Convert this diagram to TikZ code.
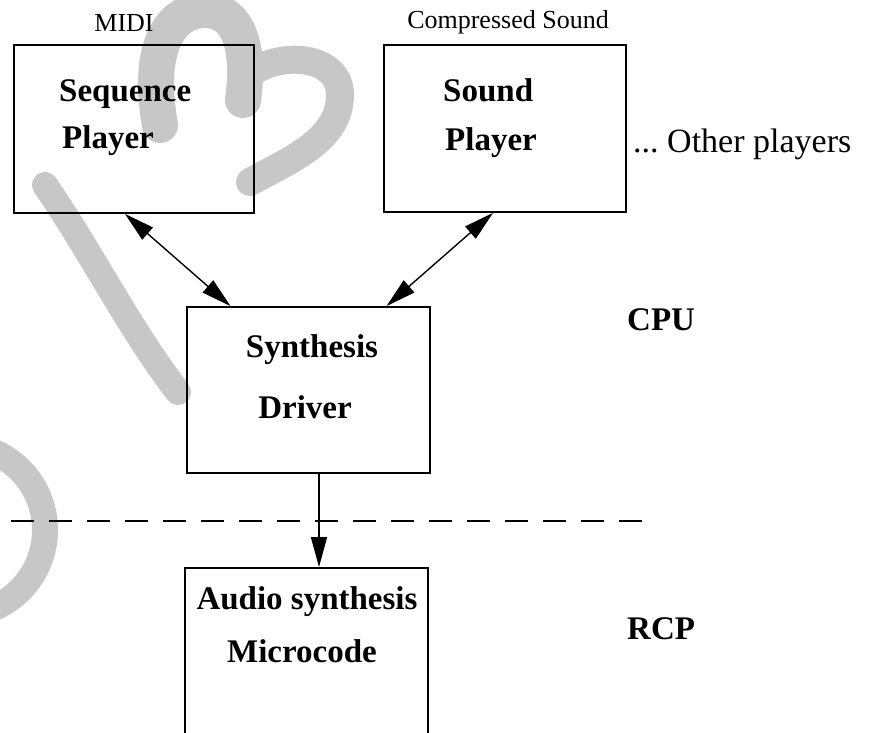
\documentclass[tikz,border=0pt]{standalone}
\usepackage{fontspec}
\setmainfont{Liberation Serif}
\usetikzlibrary{arrows.meta}

\colorlet{wmgray}{black!22}

\tikzset{
  unit/.style={draw, line width=1.8pt, minimum width=242pt, minimum height=167pt, inner sep=0pt},
  boxlabel/.style={anchor=base west, inner sep=0pt, font=\fontsize{33}{38}\selectfont\bfseries},
  toplabel/.style={anchor=base, inner sep=0pt, font=\fontsize{26}{30}\selectfont},
  sidelabel/.style={anchor=base west, inner sep=0pt, font=\fontsize{34}{38}\selectfont},
  link/.style={line width=1.4pt, {Triangle[length=30pt,width=16pt]}-{Triangle[length=30pt,width=16pt]}},
  flow/.style={line width=1.4pt, -{Triangle[length=30pt,width=16pt]}},
  split/.style={line width=2.6pt, dash pattern=on 23pt off 15pt},
  wmark/.style={wmgray, line cap=round}
}

\begin{document}
\begin{tikzpicture}[x=1pt, y=-1pt]
  \useasboundingbox (0,0) rectangle (875,733);
  %--- watermark ---
  \begin{scope}
    \clip (0,0) rectangle (875,733);
    \draw[wmark, line width=36pt] (160,125) .. controls (145,40) and (175,10) .. (205,10)
      .. controls (240,10) and (250,50) .. (243,100);
    \draw[wmark, line width=28pt] (248,75) .. controls (280,50) and (340,55) .. (340,95)
      .. controls (340,140) and (290,160) .. (250,182);
    \draw[wmark, line width=26pt] (45,185) .. controls (90,250) and (130,330) .. (178,392);
    \draw[wmark, line width=26pt] (-40,530) ++(80:85) arc[start angle=80, end angle=-80, radius=85];
  \end{scope}
  %--- boxes ---
  \node[unit, minimum width=240pt, minimum height=168pt] (seq) at (134,129) {};
  \node[unit] (snd) at (505,128.5) {};
  \node[unit, minimum width=243pt, minimum height=166pt] (syn) at (308.5,390) {};
  \node[unit, minimum width=243pt, minimum height=200pt] (aud) at (306.5,668) {};
  %--- labels ---
  \node[toplabel] (midi) at (124,32) {MIDI};
  \node[toplabel] (comp) at (508,29) {Compressed Sound};
  \node[boxlabel] (seqA) at (59,102) {Sequence};
  \node[boxlabel] (seqB) at (62,148) {Player};
  \node[boxlabel] (sndA) at (443,102) {Sound};
  \node[boxlabel] (sndB) at (445,150) {Player};
  \node[sidelabel] (others) at (633,152) {...\ Other players};
  \node[boxlabel, anchor=base] (synA) at (312,357) {Synthesis};
  \node[boxlabel, anchor=base] (synB) at (305,418) {Driver};
  \node[boxlabel, anchor=base] (audA) at (307,609) {Audio synthesis};
  \node[boxlabel, anchor=base] (audB) at (302,662) {Microcode};
  \node[boxlabel] (cpu) at (627,330) {CPU};
  \node[boxlabel] (rcp) at (627,639) {RCP};
  %--- connectors ---
  \draw[link] ([xshift=-9pt]seq.south) -- ([xshift=-78pt]syn.north);
  \draw[link] ([xshift=-12pt]snd.south) -- ([xshift=78pt]syn.north);
  \draw[flow] ([xshift=10.5pt]syn.south) -- ([xshift=12.5pt]aud.north);
  %--- CPU / RCP boundary ---
  \coordinate (cutL) at (11,521);
  \coordinate (cutR) at (650,521);
  \draw[split] (cutL) -- (cutR);
\end{tikzpicture}
\end{document}
